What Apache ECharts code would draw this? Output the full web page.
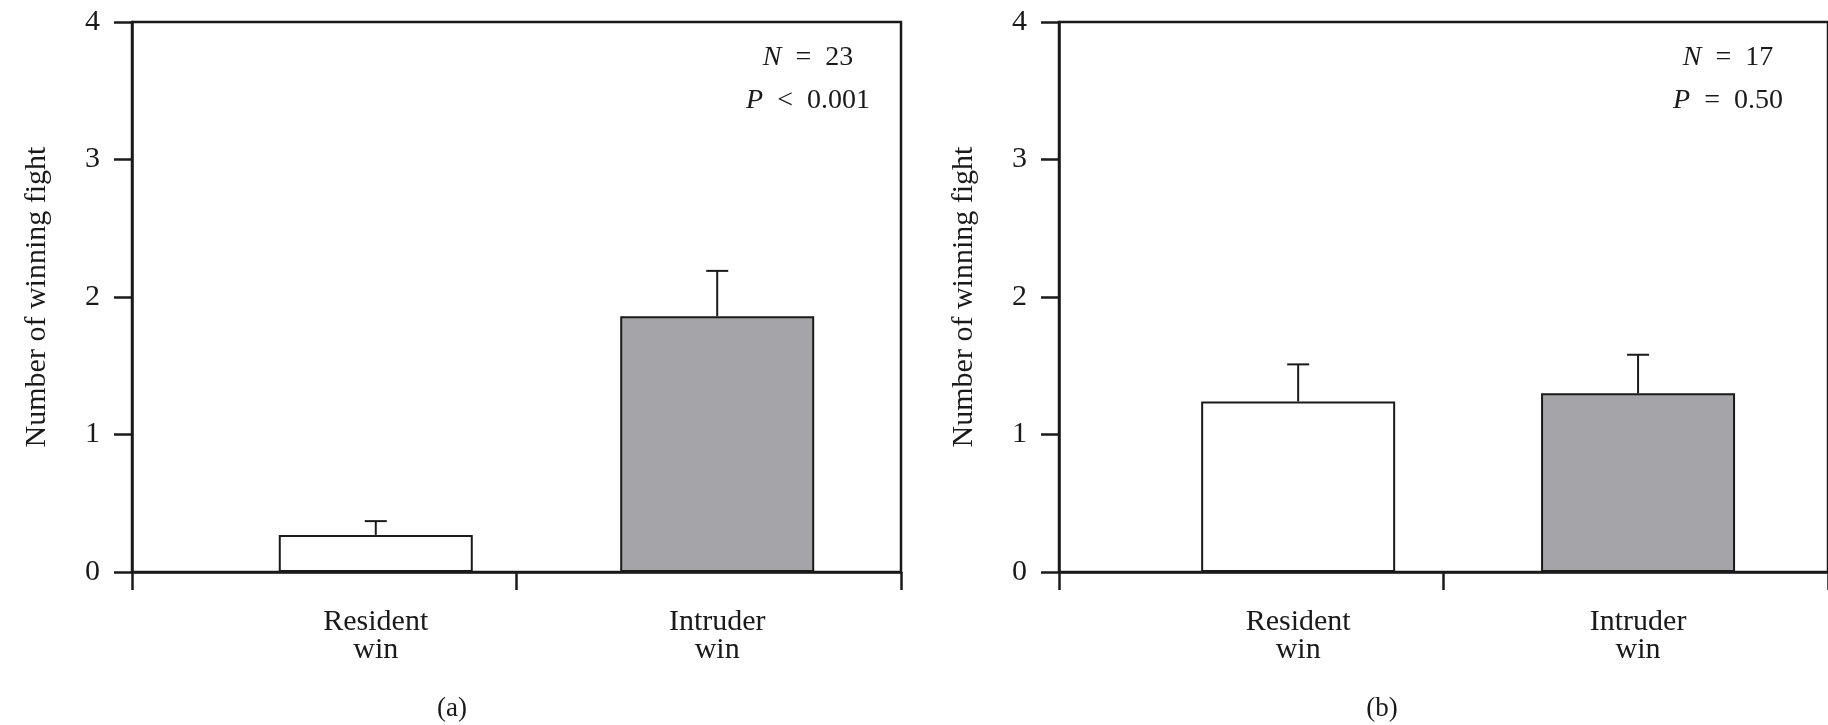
<!DOCTYPE html>
<html>
<head>
<meta charset="utf-8">
<script src="https://cdn.jsdelivr.net/npm/echarts@6/dist/echarts.min.js"></script>
<style>html,body{margin:0;padding:0;background:#fff}#c{width:1828px;height:725px}</style>
</head>
<body>
<div id="c"></div>
<script>
// ---- data ----
const categories = ['Resident\nwin', 'Intruder\nwin'];
const yTicks = [0, 1, 2, 3, 4];
const xBoundaries = [0, 1, 2];
const barXA = [0.634, 1.522];
const barXB = [0.622, 1.506];
const meanA = [0.27, 1.86];
const errTopA = [0.37, 2.19];
const meanB = [1.24, 1.30];
const errTopB = [1.51, 1.58];
const statsA = ['N', '=', '23', 'P', '<', '0.001'];
const statsB = ['N', '=', '17', 'P', '=', '0.50'];
const panelLabels = ['(a)', '(b)'];
const yTitle = 'Number of winning fight';

// ---- styles ----
const FONT = 'Liberation Serif';
const INK = '#1a1a1a';
const GRAY = '#a4a4a9';

const chart = echarts.init(document.getElementById('c'), null, {renderer: 'canvas'});

function xAxisFor(gridIndex, xs) {
  return {
    type: 'value', gridIndex, min: xBoundaries[0], max: xBoundaries[xBoundaries.length - 1], interval: 1,
    axisLine: {show: true, onZero: false, lineStyle: {color: INK, width: 2.5}},
    axisTick: {show: true, inside: false, length: 18, customValues: xBoundaries, lineStyle: {color: INK, width: 2.5}},
    axisLabel: {
      show: true, customValues: xs, margin: 36, color: INK, fontFamily: FONT, fontSize: 30, lineHeight: 28,
      formatter: function (v) {
        let best = 0;
        for (let i = 1; i < xs.length; i++) if (Math.abs(xs[i] - v) < Math.abs(xs[best] - v)) best = i;
        return categories[best];
      }
    },
    splitLine: {show: false}
  };
}
function yAxisFor(gridIndex) {
  return {
    type: 'value', gridIndex, min: yTicks[0], max: yTicks[yTicks.length - 1], interval: 1,
    name: yTitle, nameLocation: 'middle', nameGap: 80,
    nameTextStyle: {fontFamily: FONT, fontSize: 30, color: INK},
    axisLine: {show: true, lineStyle: {color: INK, width: 2.5}},
    axisTick: {show: true, inside: false, length: 18, lineStyle: {color: INK, width: 2.5}},
    axisLabel: {margin: 32, color: INK, fontFamily: FONT, fontSize: 30},
    splitLine: {show: false}
  };
}
function barSeries(idx, xs, means) {
  return {
    type: 'bar', xAxisIndex: idx, yAxisIndex: idx, barWidth: 194,
    data: xs.map((x, i) => [x, means[i]]),
    itemStyle: {
      color: p => (p.dataIndex === 0 ? '#ffffff' : GRAY),
      borderColor: INK, borderWidth: 2
    },
    silent: true, z: 2
  };
}
function errSeries(idx, xs, means, tops) {
  return {
    type: 'custom', xAxisIndex: idx, yAxisIndex: idx,
    data: xs.map((x, i) => [x, means[i], tops[i]]),
    encode: {x: 0, y: [1, 2]},
    renderItem: function (params, api) {
      const x = api.value(0);
      const p0 = api.coord([x, api.value(1)]);
      const p1 = api.coord([x, api.value(2)]);
      const st = {stroke: INK, lineWidth: 2};
      return {type: 'group', children: [
        {type: 'line', shape: {x1: p0[0], y1: p0[1], x2: p1[0], y2: p1[1]}, style: st},
        {type: 'line', shape: {x1: p1[0] - 11, y1: p1[1], x2: p1[0] + 11, y2: p1[1]}, style: st}
      ]};
    },
    silent: true, z: 3
  };
}
function statText(s, cx) {
  return {
    type: 'text', x: cx, y: 36, silent: true,
    style: {
      text: '{i|' + s[0] + '}  ' + s[1] + '  ' + s[2] + '\n{i|' + s[3] + '}  ' + s[4] + '  ' + s[5],
      rich: {i: {fontStyle: 'italic', fontFamily: FONT, fontSize: 28, fill: INK, lineHeight: 43}},
      fontFamily: FONT, fontSize: 28, lineHeight: 43, fill: INK,
      align: 'center', verticalAlign: 'top'
    }
  };
}
function panelText(t, cx) {
  return {
    type: 'text', x: cx, y: 709, silent: true,
    style: {text: t, fontFamily: FONT, fontSize: 27, fill: INK, align: 'center', verticalAlign: 'middle'}
  };
}

chart.setOption({
  animation: false,
  backgroundColor: '#ffffff',
  grid: [
    {left: 132, right: 927, top: 22, bottom: 153, show: true, borderColor: INK, borderWidth: 2.5, backgroundColor: 'transparent'},
    {left: 1059, right: -2, top: 22, bottom: 153, show: true, borderColor: INK, borderWidth: 2.5, backgroundColor: 'transparent'}
  ],
  xAxis: [xAxisFor(0, barXA), xAxisFor(1, barXB)],
  yAxis: [yAxisFor(0), yAxisFor(1)],
  series: [
    barSeries(0, barXA, meanA), errSeries(0, barXA, meanA, errTopA),
    barSeries(1, barXB, meanB), errSeries(1, barXB, meanB, errTopB)
  ],
  graphic: [
    statText(statsA, 808), statText(statsB, 1728),
    panelText(panelLabels[0], 452), panelText(panelLabels[1], 1382)
  ]
});
</script>
</body>
</html>
